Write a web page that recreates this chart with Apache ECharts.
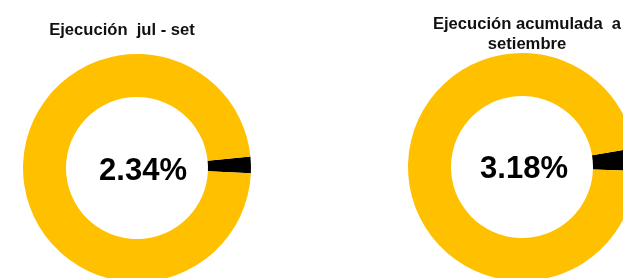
<!DOCTYPE html>
<html><head><meta charset="utf-8">
<script src="https://cdn.jsdelivr.net/npm/echarts@6/dist/echarts.min.js"></script>
<style>html,body{margin:0;padding:0;background:#fff}#c{width:623px;height:278px}</style>
</head><body><div id="c"></div>
<script>
const chartTitles = ['Ejecución  jul - set', 'Ejecución acumulada  a\nsetiembre'];
const executed = [2.34, 3.18];
const sliceNames = ['Ejecutado', 'Pendiente'];
const colors = ['#000000', '#FFC000'];

const centers = [[137, 168], [522, 167]];
const startAngles = [5.8, 9.5];
const titlePos = [[122, 30], [527, 34]];
const labelPos = [[143, 171], [524, 169]];

const chart = echarts.init(document.getElementById('c'), null, {renderer: 'canvas'});
const series = executed.map((v, i) => ({
  type: 'pie',
  center: centers[i],
  radius: [71, 114],
  startAngle: startAngles[i],
  clockwise: true,
  silent: true,
  label: {show: false},
  labelLine: {show: false},
  itemStyle: {borderWidth: 0},
  data: [
    {name: sliceNames[0], value: v, itemStyle: {color: colors[0]}},
    {name: sliceNames[1], value: +(100 - v).toFixed(2), itemStyle: {color: colors[1]}}
  ]
}));
const texts = [];
chartTitles.forEach((t, i) => {
  texts.push({type: 'text', x: titlePos[i][0], y: titlePos[i][1], style: {
    text: t, fill: '#111', font: 'bold 16.6px "Liberation Sans", Arial, sans-serif',
    textAlign: 'center', textVerticalAlign: 'middle', lineHeight: 20}});
});
executed.forEach((v, i) => {
  texts.push({type: 'text', x: labelPos[i][0], y: labelPos[i][1], style: {
    text: v.toFixed(2) + '%', fill: '#000', font: 'bold 31px "Liberation Sans", Arial, sans-serif',
    textAlign: 'center', textVerticalAlign: 'middle'}});
});
chart.setOption({animation: false, series, graphic: texts});
</script></body></html>
